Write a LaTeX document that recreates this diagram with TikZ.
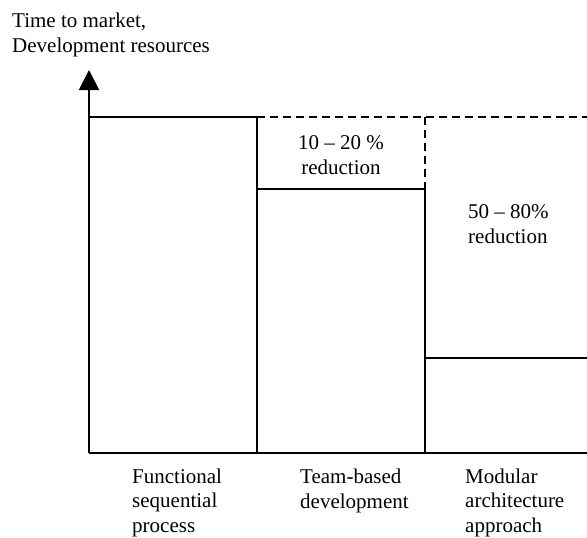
\documentclass[tikz,border=0pt]{standalone}
\usepackage{fontspec}
\setmainfont{Liberation Serif}
\usetikzlibrary{arrows.meta}
\begin{document}
\begin{tikzpicture}[x=1pt,y=-1pt,
  bar/.style={line width=1.8pt},
  gain/.style={line width=1.6pt,dash pattern=on 8pt off 5pt},
  axis/.style={line width=2pt,-{Triangle[width=20pt,length=20pt]}},
  lbl/.style={inner sep=0pt,anchor=base west,align=left,
    font=\fontsize{21}{24.5}\selectfont}]
\useasboundingbox (0,0) rectangle (587,538);
% corners of the three bars
\coordinate (o) at (89,453);
\coordinate (top) at (89,117);
\coordinate (a1) at (257,117);
\coordinate (a0) at (257,453);
\coordinate (b1) at (257,189);
\coordinate (b2) at (425,189);
\coordinate (b0) at (425,453);
\coordinate (bt) at (425,117);
\coordinate (c1) at (425,358);
\coordinate (c2) at (587,358);
\coordinate (c0) at (587,453);
\coordinate (ct) at (587,117);
\coordinate (tip) at (89,70);
% axis and baseline
\draw[axis] (o) -- (tip);
\draw[bar] (o) -- (c0);
% functional sequential process
\draw[bar] (top) -- (a1) -- (a0);
% team-based development
\draw[bar] (b1) -- (b2) -- (b0);
% modular architecture approach
\draw[bar] (c1) -- (c2);
% reductions against the first bar
\draw[gain] (a1) -- (ct);
\draw[gain] (bt) -- (b2);
% texts (base anchor sits on the last line)
\node[lbl] (ylab) at (12,52) {Time to market,\\Development resources};
\node[lbl,align=center,anchor=base] (r1) at (341,174) {10 -- 20 \%\\reduction};
\node[lbl] (r2) at (468,243) {50 -- 80\%\\reduction};
\node[lbl] (l1) at (132,532) {Functional\\sequential\\process};
\node[lbl] (l2) at (300,508) {Team-based\\development};
\node[lbl] (l3) at (465,532) {Modular\\architecture\\approach};
\end{tikzpicture}
\end{document}
